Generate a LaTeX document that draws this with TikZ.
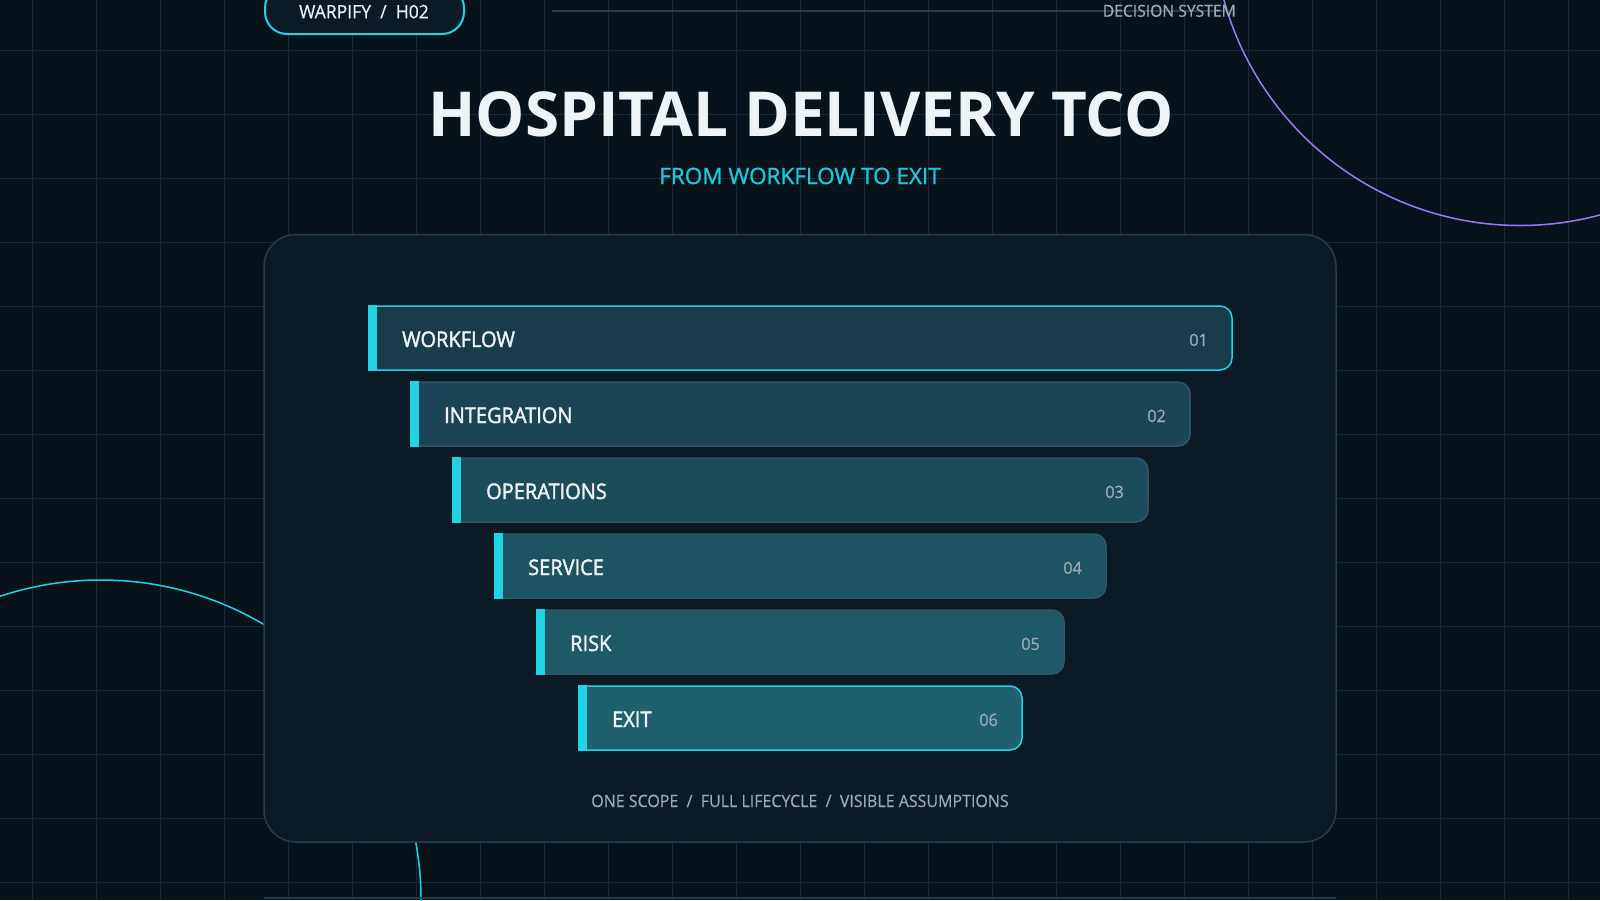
\documentclass[tikz,border=0pt]{standalone}
\usepackage{fontspec}
\setmainfont{Open Sans}
\newfontfamily\semifont[FakeBold=1.8, FakeStretch=0.93]{Open Sans}
\newfontfamily\narrowfont[FakeBold=0.5, FakeStretch=0.95]{Open Sans}
\newfontfamily\subfont[FakeBold=1.2]{Open Sans}
\definecolor{bg}{HTML}{08121B}
\definecolor{gridc}{HTML}{17293A}
\definecolor{panelfill}{HTML}{0B1A25}
\definecolor{panelline}{HTML}{243C4C}
\definecolor{txtw}{HTML}{EEF3F6}
\definecolor{cyanc}{HTML}{22D3E6}
\definecolor{subc}{HTML}{22C5DA}
\definecolor{grayt}{HTML}{9AAAB6}
\definecolor{purp}{HTML}{9A7CF2}
\definecolor{barline}{HTML}{2F5666}
\definecolor{barA}{HTML}{193C4D}
\definecolor{barB}{HTML}{1B4556}
\definecolor{barC}{HTML}{1C4C5C}
\definecolor{barD}{HTML}{1D5362}
\definecolor{barE}{HTML}{1E5967}
\definecolor{barF}{HTML}{1F606F}
\tikzset{
  gridline/.style={draw=gridc, line width=1pt},
  barlabel/.style={anchor=base west, inner sep=0pt, text=txtw, font=\semifont\fontsize{21.5}{26}\selectfont},
  barnum/.style={anchor=base east, inner sep=0pt, text=grayt, font=\narrowfont\fontsize{17}{20}\selectfont},
  accent/.style={fill=cyanc},
}
\newcommand{\stagebar}[8]{%
  \begin{scope}
    \clip (#2,#4-3) rectangle (#3+3,#4+67);
    \path[fill=#5, draw=#6, line width=1.5pt, rounded corners=12pt] (#2-16,#4) rectangle (#3,#4+64);
  \end{scope}
  \fill[accent] (#2,#4-0.75) rectangle (#2+8.5,#4+64.75);
  \node[barlabel] (#1) at (#2+34,#4+41) {#7};
  \node[barnum] (#1num) at (#3-24,#4+40) {#8};
}
\begin{document}
\begin{tikzpicture}[x=1pt,y=-1pt]
\useasboundingbox (0,0) rectangle (1600,900);
\fill[bg] (0,0) rectangle (1600,900);
% grid
\foreach \k in {0,...,24} { \draw[gridline] (32+64*\k,0) -- (32+64*\k,900); }
\foreach \k in {0,...,13} { \draw[gridline] (0,50+64*\k) -- (1600,50+64*\k); }
% decorative arcs
\draw[purp, line width=1.5pt] (1520,-81.5) circle[radius=307];
\draw[cyanc, line width=1.5pt] (101,900) circle[radius=320];
% bottom line
\draw[panelline, line width=1.5pt] (264,898) -- (1336,898);
% top line
\draw[draw=panelline, line width=1.2pt] (552,11) -- (1230,11);
% pill
\node[draw=cyanc, line width=2pt, fill=panelfill, rounded corners=22pt, minimum width=199pt, minimum height=48pt, inner sep=0pt] (pill) at (364.5,10) {};
\node[anchor=base, inner sep=0pt, text=txtw, font=\narrowfont\fontsize{18.5}{22}\selectfont] (pilltxt) at (364,18.3) {WARPIFY~~/~~H02};
\node[anchor=base east, inner sep=0pt, text=grayt, font=\narrowfont\fontsize{16.5}{20}\selectfont] (decsys) at (1236,16.7) {DECISION SYSTEM};
% title
\node[anchor=base, inner sep=0pt, text=txtw, font=\bfseries\fontsize{62}{70}\selectfont] (title) at (801,136.7) {HOSPITAL DELIVERY TCO};
\node[anchor=base, inner sep=0pt, text=subc, font=\subfont\fontsize{22.5}{26}\selectfont] (subtitle) at (800,184) {FROM WORKFLOW TO EXIT};
% panel
\draw[fill=panelfill, draw=panelline, line width=1.5pt, rounded corners=32pt] (264,234.5) rectangle (1336,842);
\node[anchor=center, inner sep=0pt] (panel) at (800,538) {};
% bars
\stagebar{workflow}{368}{1232}{306}{barA}{cyanc}{WORKFLOW}{01}
\stagebar{integration}{410}{1190}{382}{barB}{barline}{INTEGRATION}{02}
\stagebar{operations}{452}{1148}{458}{barC}{barline}{OPERATIONS}{03}
\stagebar{service}{494}{1106}{534}{barD}{barline}{SERVICE}{04}
\stagebar{risk}{536}{1064}{610}{barE}{barline}{RISK}{05}
\stagebar{exit}{578}{1022}{686}{barF}{cyanc}{EXIT}{06}
% footer
\node[anchor=base, inner sep=0pt, text=grayt, font=\narrowfont\fontsize{17}{20}\selectfont, xscale=0.99] (footer) at (800,807) {ONE SCOPE~~/~~FULL LIFECYCLE~~/~~VISIBLE ASSUMPTIONS};
\end{tikzpicture}
\end{document}
